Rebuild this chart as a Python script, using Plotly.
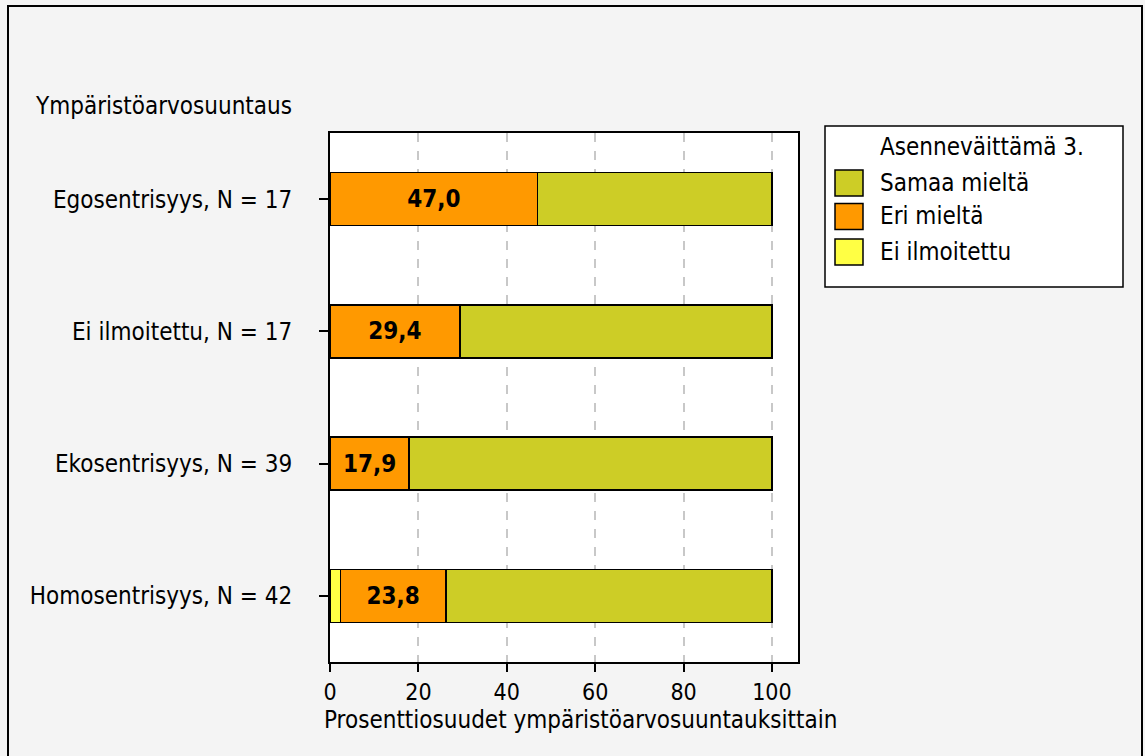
import plotly.graph_objects as go

# Survey responses by environmental value orientation (percent of respondents)
categories = ["Egosentrisyys, N = 17", "Ei ilmoitettu, N = 17",
              "Ekosentrisyys, N = 39", "Homosentrisyys, N = 42"]
series_names = ["Samaa mieltä", "Eri mieltä", "Ei ilmoitettu"]
ei_ilmoitettu = [0.0, 0.0, 0.0, 2.4]
eri_mielta = [47.0, 29.4, 17.9, 23.8]
samaa_mielta = [53.0, 70.6, 82.1, 73.8]
x_ticks = [0, 20, 40, 60, 80, 100]

colors = {"Samaa mieltä": "#CDCD26", "Eri mieltä": "#FF9900", "Ei ilmoitettu": "#FFFF44"}
FONT = "Tahoma, 'DejaVu Sans Condensed', 'DejaVu Sans', sans-serif"
FS = 24

W, H = 1145, 756
L, R, T, B = 330, 798, 133, 662  # plot area in pixels
pw, ph = R - L, B - T


def px_x(p):
    return (p - L) / pw


def px_y(p):
    return (B - p) / ph


fig = go.Figure()
bar_line = dict(color="black", width=1.5)
fig.add_bar(y=categories, x=ei_ilmoitettu, orientation="h", name="Ei ilmoitettu",
            marker=dict(color=colors["Ei ilmoitettu"], line=bar_line), width=0.4,
            showlegend=False)
fig.add_bar(y=categories, x=eri_mielta, orientation="h", name="Eri mieltä",
            marker=dict(color=colors["Eri mieltä"], line=bar_line), width=0.4,
            texttemplate="%{x:.1f}", textposition="inside", insidetextanchor="middle",
            textangle=0, constraintext="none",
            textfont=dict(family=FONT, size=FS, color="black", weight="bold"),
            showlegend=False)
fig.add_bar(y=categories, x=samaa_mielta, orientation="h", name="Samaa mieltä",
            marker=dict(color=colors["Samaa mieltä"], line=bar_line), width=0.4,
            showlegend=False)

shapes = [
    # outer frame
    dict(type="rect", xref="paper", yref="paper", x0=px_x(8), x1=px_x(1142),
         y0=px_y(6), y1=px_y(770), line=dict(color="black", width=2), layer="above"),
    # legend box
    dict(type="rect", xref="paper", yref="paper", x0=px_x(825), x1=px_x(1123),
         y0=px_y(126), y1=px_y(287), line=dict(color="black", width=1.5),
         fillcolor="white", layer="above"),
]
annotations = [
    dict(text="Ympäristöarvosuuntaus", xref="paper", yref="paper", x=px_x(33), y=px_y(106),
         xanchor="left", yanchor="middle", showarrow=False,
         font=dict(family=FONT, size=FS, color="black")),
    dict(text="Prosenttiosuudet ympäristöarvosuuntauksittain", xref="paper", yref="paper",
         x=px_x(322), y=px_y(720), xanchor="left", yanchor="middle", showarrow=False,
         font=dict(family=FONT, size=FS, color="black")),
    dict(text="Asenneväittämä 3.", xref="paper", yref="paper", x=px_x(878), y=px_y(147),
         xanchor="left", yanchor="middle", showarrow=False,
         font=dict(family=FONT, size=FS, color="black")),
]
item_centers = [183, 216.5, 252]
for name, cy in zip(series_names, item_centers):
    shapes.append(dict(type="rect", xref="paper", yref="paper", x0=px_x(835), x1=px_x(863),
                       y0=px_y(cy - 13), y1=px_y(cy + 13), fillcolor=colors[name],
                       line=dict(color="black", width=1.5), layer="above"))
    annotations.append(dict(text=name, xref="paper", yref="paper", x=px_x(878), y=px_y(cy),
                            xanchor="left", yanchor="middle", showarrow=False,
                            font=dict(family=FONT, size=FS, color="black")))

fig.update_layout(
    width=W, height=H,
    margin=dict(l=L, r=W - R, t=T, b=H - B, pad=0),
    barmode="stack",
    separators=", ",
    paper_bgcolor="#F4F4F4",
    plot_bgcolor="white",
    font=dict(family=FONT, size=FS, color="black"),
    showlegend=False,
    shapes=shapes,
    annotations=annotations,
    xaxis=dict(range=[0, 105.9], tickvals=x_ticks, ticks="outside", ticklen=8,
               tickwidth=1.5, tickcolor="black", showline=True, linecolor="black",
               linewidth=2, mirror=True, showgrid=True, gridcolor="#C8C8C8",
               griddash="dash", gridwidth=1.5, zeroline=False,
               tickfont=dict(family=FONT, size=23, color="black")),
    yaxis=dict(categoryorder="array", categoryarray=categories, range=[3.5, -0.5],
               ticks="outside", ticklen=9, tickwidth=1.5, tickcolor="black",
               showline=True, linecolor="black", linewidth=2, mirror=True,
               showgrid=False, zeroline=False, ticklabelstandoff=22,
               tickfont=dict(family=FONT, size=FS, color="black")),
)

fig.write_html("out.html")
